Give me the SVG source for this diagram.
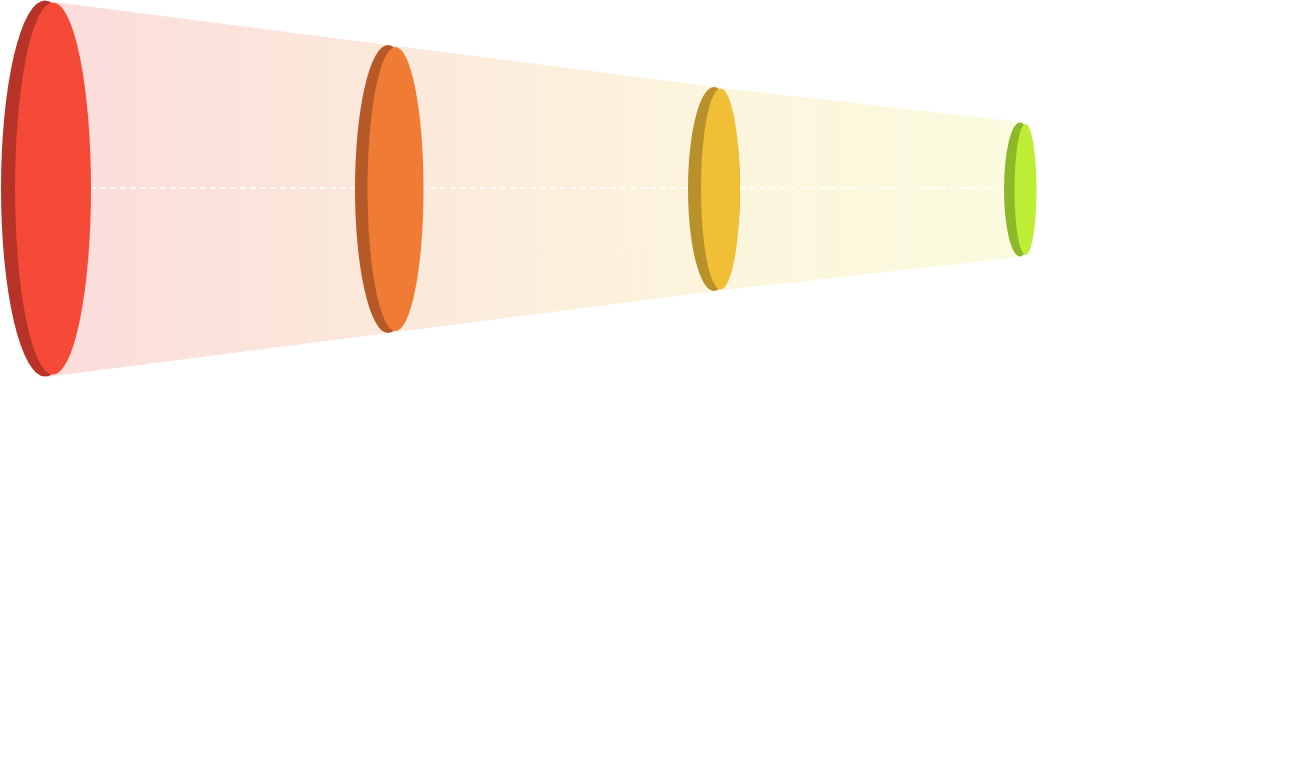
<svg xmlns="http://www.w3.org/2000/svg" width="1289" height="757" viewBox="0 0 1289 757">
  <defs>
    <linearGradient id="bandGrad" gradientUnits="userSpaceOnUse" x1="47" y1="0" x2="1025" y2="0">
      <stop offset="0" stop-color="#fbdcdb"/>
      <stop offset="0.35" stop-color="#fbe9db"/>
      <stop offset="0.685" stop-color="#fcf5dd"/>
      <stop offset="1" stop-color="#fafbdf"/>
    </linearGradient>
    <style>
      .connector { fill: none; stroke: #ffffff; stroke-width: 1.3; stroke-dasharray: 6 4; opacity: 0.9; }
      .band { fill: url(#bandGrad); }
    </style>
  </defs>
  <rect width="1289" height="757" fill="#ffffff"/>
  <g id="funnel">
    <polygon class="band" points="46,1 389,45 715,87 1021,122 1021,257 715,291 389,333 46,377"/>
  </g>
  <g id="connectors">
    <line class="connector" x1="90" y1="188" x2="1015" y2="188"/>
  </g>
  <g id="disc-1">
    <ellipse cx="45" cy="188.5" rx="44" ry="188" fill="#b73327"/>
    <ellipse cx="53" cy="188.5" rx="38" ry="186" fill="#f44a37"/>
  </g>
  <g id="disc-2">
    <ellipse cx="388" cy="189" rx="33" ry="144" fill="#b55a26"/>
    <ellipse cx="395.5" cy="189" rx="28" ry="142" fill="#f07b34"/>
  </g>
  <g id="disc-3">
    <ellipse cx="714" cy="189" rx="26" ry="102" fill="#b8912a"/>
    <ellipse cx="720.5" cy="189" rx="19.5" ry="100.5" fill="#f0bf36"/>
  </g>
  <g id="disc-4">
    <ellipse cx="1020" cy="189.5" rx="16" ry="67" fill="#8db829"/>
    <ellipse cx="1025.5" cy="189.5" rx="11" ry="65.5" fill="#bded35"/>
  </g>
</svg>
